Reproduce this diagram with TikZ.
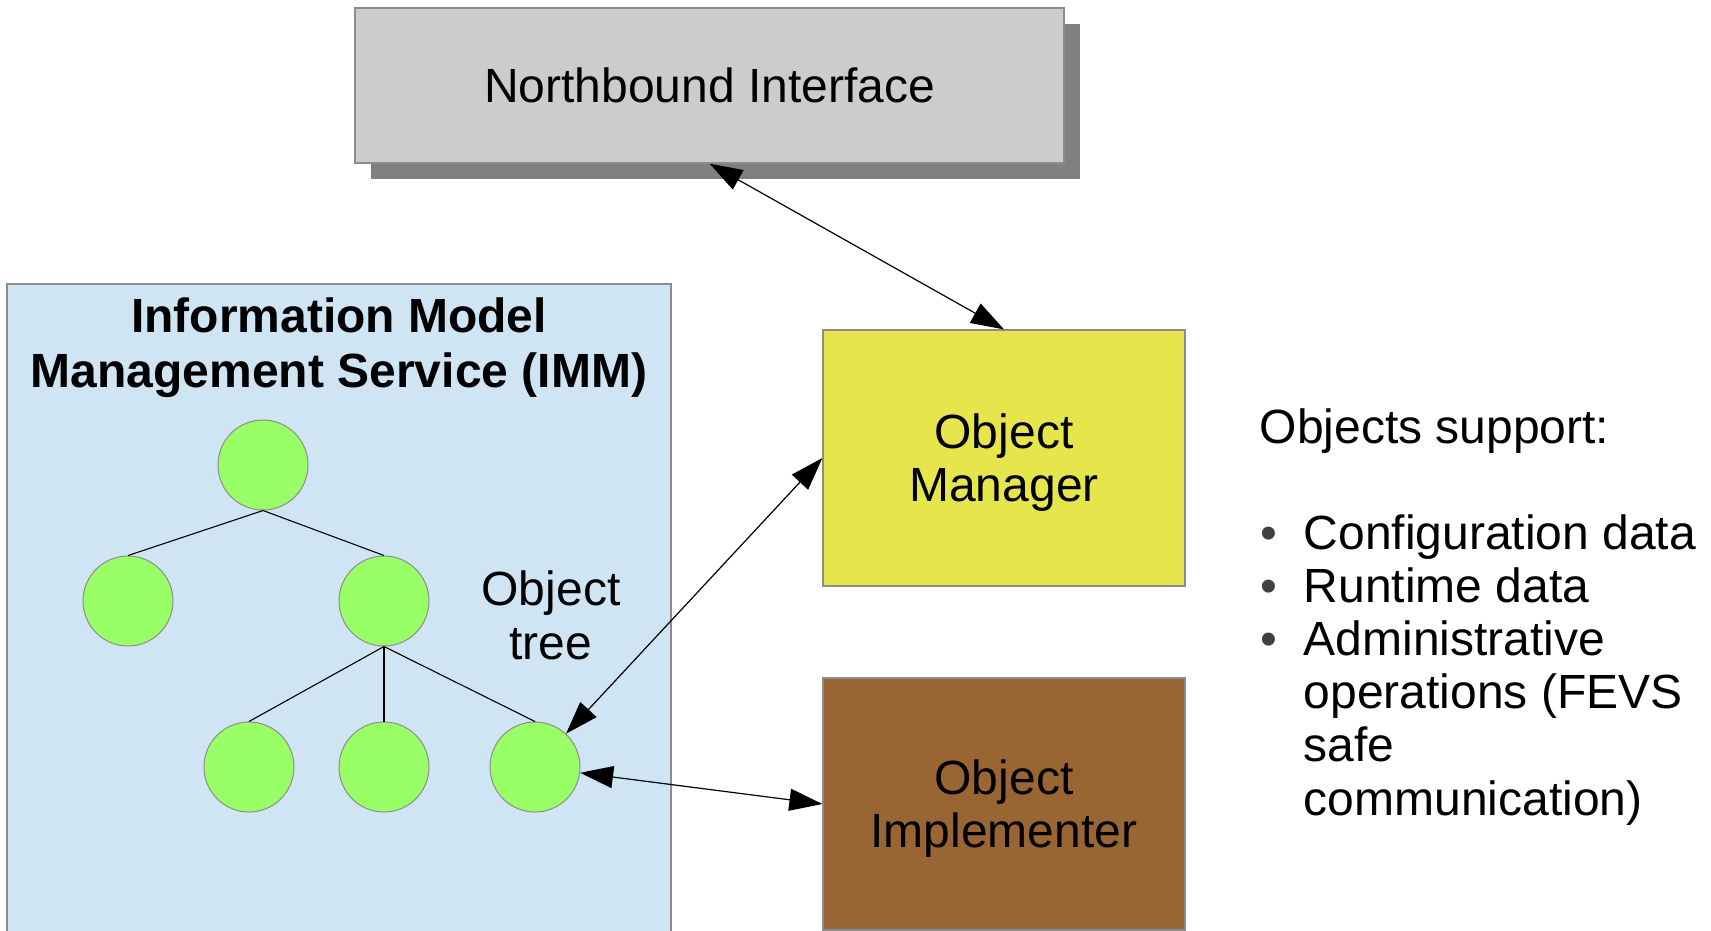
\documentclass[tikz,border=0pt]{standalone}
\usepackage{fontspec}
\setmainfont{Liberation Sans}
\usetikzlibrary{arrows.meta,shadows}

\definecolor{nbgray}{HTML}{CCCCCC}
\definecolor{shadowgray}{HTML}{808080}
\definecolor{immblue}{HTML}{CFE5F3}
\definecolor{omyellow}{HTML}{E6E64C}
\definecolor{oibrown}{HTML}{996633}
\definecolor{leafgreen}{HTML}{99FF66}
\definecolor{edgegray}{HTML}{8C8C8C}
\definecolor{bulletgray}{HTML}{404040}

\tikzset{
  bigfont/.style={font=\fontsize{48}{53.5}\selectfont},
  box/.style={draw=edgegray, line width=1.2pt, rectangle, inner sep=0pt, bigfont, align=center},
  leaf/.style={circle, draw=edgegray, line width=1pt, fill=leafgreen, minimum size=90pt, inner sep=0pt},
  branch/.style={line width=1.1pt, black},
  link/.style={line width=1.2pt, black, {Triangle[length=33pt,width=22pt]}-{Triangle[length=33pt,width=22pt]}},
  plain/.style={bigfont, inner sep=0pt},
  titlefont/.style={font=\fontsize{48}{55}\selectfont\bfseries}
}

\begin{document}
\begin{tikzpicture}[x=1pt,y=-1pt]
\useasboundingbox (0,0) rectangle (1711,930);

% Northbound interface with its drop shadow
\node[box, fill=nbgray, minimum width=709pt, minimum height=155pt,
      drop shadow={shadow xshift=16pt, shadow yshift=-16pt, fill=shadowgray, opacity=1}]
      (nb) at (709.5,85.5) {Northbound Interface};

% IMM service area
\node[box, fill=immblue, minimum width=664pt, minimum height=660pt] (imm) at (339,614) {};
\node[plain, titlefont, anchor=base] (immtitle1) at (339,332) {Information Model};
\node[plain, titlefont, anchor=base] (immtitle2) at (339,387) {Management Service (IMM)};

% Object tree
\node[leaf] (root) at (263,465) {};
\node[leaf] (l1) at (128,601) {};
\node[leaf] (l2) at (384,601) {};
\node[leaf] (b1) at (249,767) {};
\node[leaf] (b2) at (384,767) {};
\node[leaf] (b3) at (535,767) {};
\draw[branch] (root.south) -- (l1.north);
\draw[branch] (root.south) -- (l2.north);
\draw[branch] (l2.south) -- (b1.north);
\draw[branch] (l2.south) -- (b2.north);
\draw[branch] (l2.south) -- (b3.north);

\node[plain, anchor=base] (tree1) at (551,605) {Object};
\node[plain, anchor=base] (tree2) at (551,659) {tree};

% Object manager and implementer
\node[box, fill=omyellow, minimum width=362pt, minimum height=256pt] (om) at (1004,458) {};
\node[plain, anchor=base] (om1) at (1004,448) {Object};
\node[plain, anchor=base] (om2) at (1004,501) {Manager};

\node[box, fill=oibrown, minimum width=362pt, minimum height=252pt] (oi) at (1004,804) {};
\node[plain, anchor=base] (oi1) at (1004,794) {Object};
\node[plain, anchor=base] (oi2) at (1004,847) {Implementer};

% Connectors
\draw[link] (nb.south) -- (om.north);
\draw[link] (om.west) -- (b3);
\draw[link] (oi.west) -- (b3);

% Feature list
\node[plain, anchor=base west] (hdr) at (1259.5,443) {Objects support:};
\foreach \i/\txt/\bul in {0/Configuration data/1, 1/Runtime data/1, 2/Administrative/1,
                          3/operations (FEVS/0, 4/safe/0, 5/communication)/0}{
  \pgfmathsetmacro{\yy}{549+53.2*\i}
  \ifnum\bul=1
    \node[plain, anchor=base west, text=bulletgray] (bul\i) at (1260,\yy) {•};
  \fi
  \node[plain, anchor=base west] (item\i) at (1303.5,\yy) {\txt};
}
\end{tikzpicture}
\end{document}
